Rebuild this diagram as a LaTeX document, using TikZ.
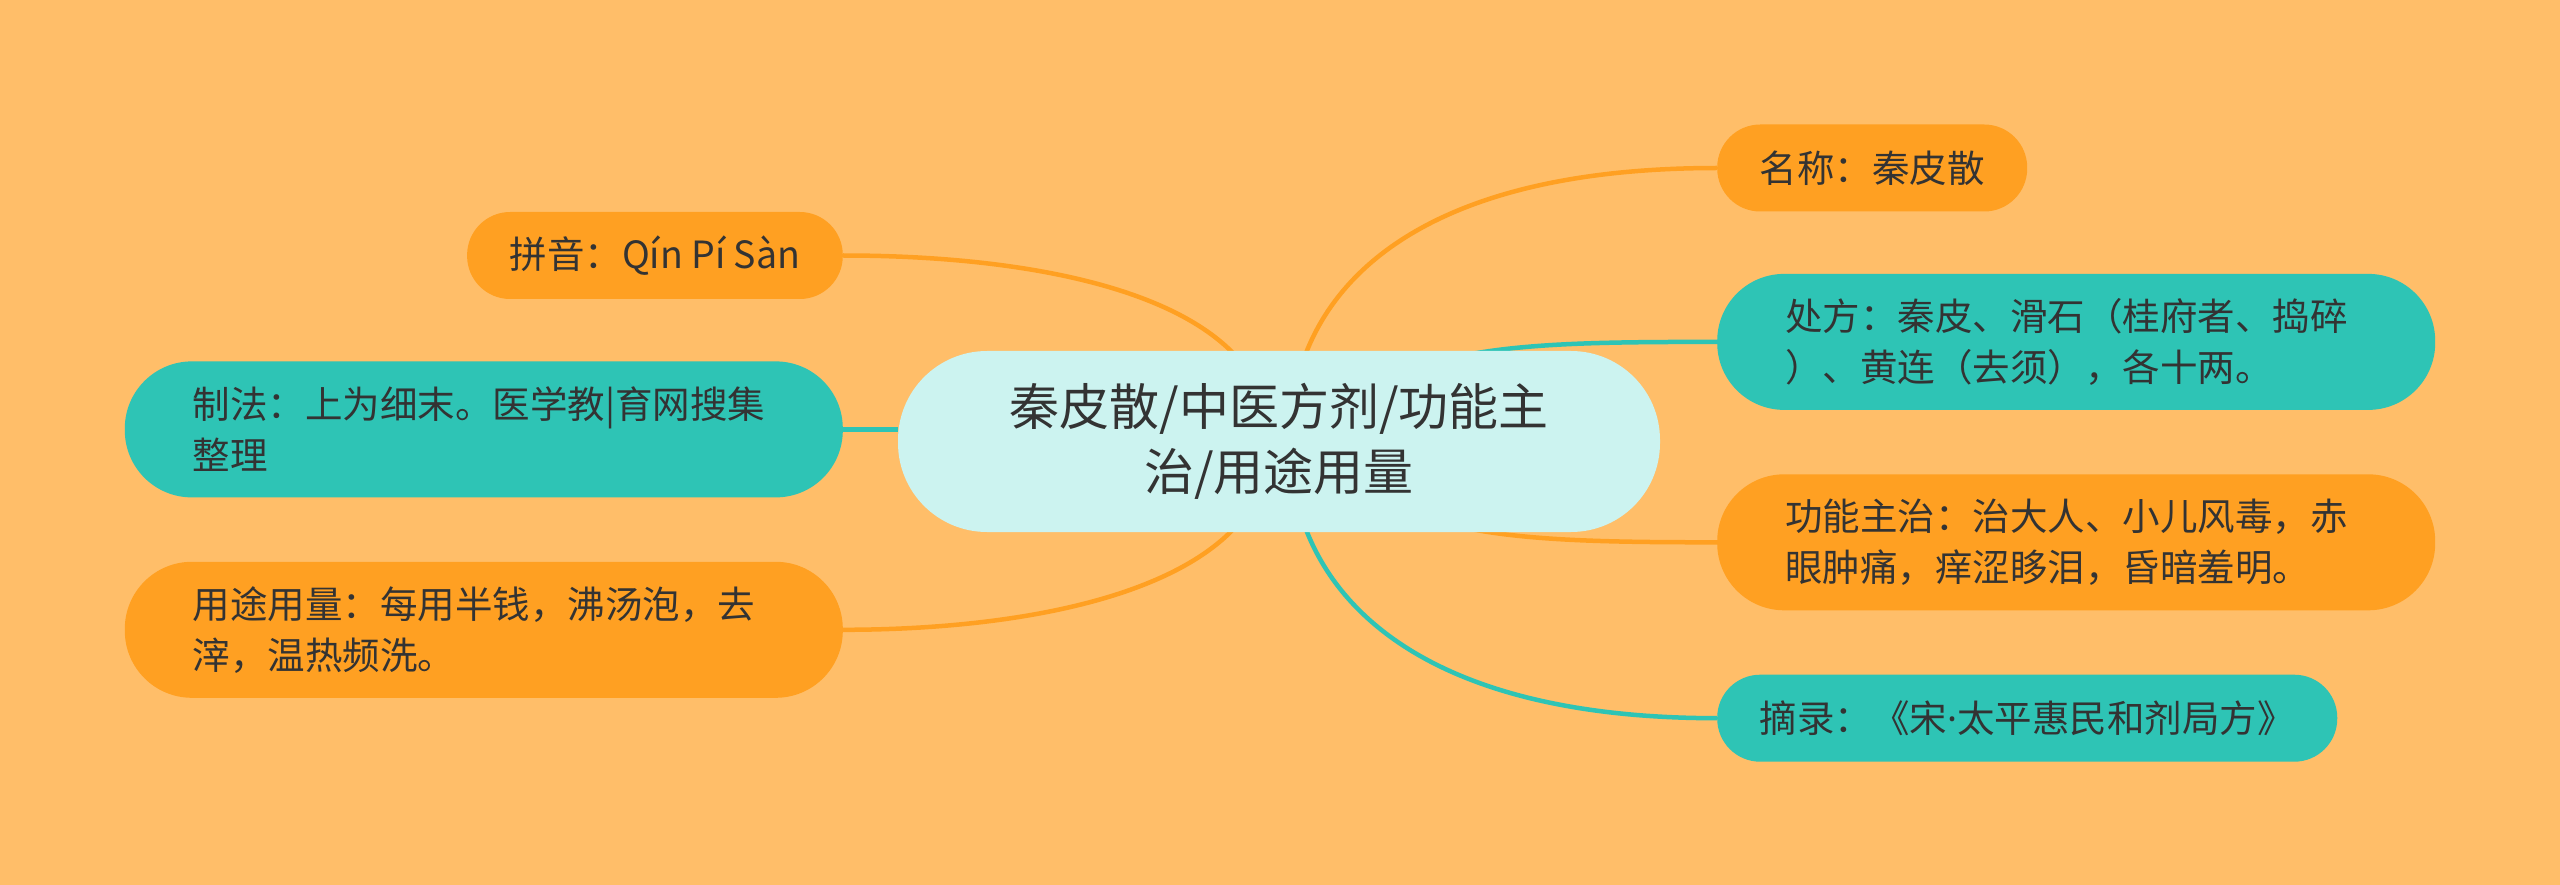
\documentclass[tikz,border=0pt]{standalone}
\usepackage{fontspec}
\newfontfamily\cjk{Noto Sans CJK SC}
\newfontfamily\latin{Noto Sans}
\usetikzlibrary{positioning,backgrounds}

\definecolor{bgorange}{HTML}{FFBE69}
\definecolor{leaforange}{HTML}{FFA022}
\definecolor{leafteal}{HTML}{2EC4B5}
\definecolor{rootcyan}{HTML}{CCF3F0}
\definecolor{inkgray}{HTML}{333333}

\tikzset{
  leaf/.style={rounded corners=43pt, minimum height=87pt, inner xsep=42.5pt, inner ysep=0pt,
    text=inkgray, font=\cjk\fontsize{37.5}{51}\selectfont},
  wideleaf/.style={leaf, rounded corners=67pt, minimum height=136pt, inner xsep=68pt,
    text width=582pt, align=left},
  orangeleaf/.style={fill=leaforange},
  tealleaf/.style={fill=leafteal},
  root/.style={fill=rootcyan, rounded corners=89pt, minimum width=762pt, minimum height=181pt,
    text=inkgray, align=center, font=\cjk\fontsize{50}{65}\selectfont},
  orangeline/.style={draw=leaforange, line width=4.5pt},
  tealline/.style={draw=leafteal, line width=4.5pt},
}

\begin{document}
\begin{tikzpicture}[x=1pt, y=-1pt]
			\useasboundingbox (0,0) rectangle (2560,885);

			\node[root] (root) at (1279,441.5) {秦皮散/中医方剂/功能主\\治/用途用量};
			\coordinate (hubL) at (1270,441);
			\coordinate (hubR) at (1290,441);

			% left side
			\node[leaf, orangeleaf, anchor=east] (py) at (843,255.5) {拼音：Qín Pí Sàn};
			\node[wideleaf, tealleaf] (zf) [below=62pt of py.south east, anchor=north east] {制法：上为细末。医学教|育网搜集\\整理};
			\node[wideleaf, orangeleaf] (yt) [below=64pt of zf.south east, anchor=north east] {用途用量：每用半钱，沸汤泡，去\\滓，温热频洗。};

			% right side
			\node[leaf, orangeleaf, anchor=west] (mc) at (1717,168) {名称：秦皮散};
			\node[wideleaf, tealleaf] (cf) [below=62pt of mc.south west, anchor=north west] {处方：秦皮、滑石（桂府者、捣碎\\）、黄连（去须），各十两。};
			\node[wideleaf, orangeleaf] (gn) [below=64pt of cf.south west, anchor=north west] {功能主治：治大人、小儿风毒，赤\\眼肿痛，痒涩眵泪，昏暗羞明。};
			\node[leaf, tealleaf] (zl) [below=64pt of gn.south west, anchor=north west] {摘录：《宋{\latin ·}太平惠民和剂局方》};

			\begin{scope}[on background layer]
				\fill[bgorange] (0,0) rectangle (2560,885);
				\draw[orangeline] (hubL) .. controls +(0,-141) and +(208,0) .. (py.east);
				\draw[tealline] (zf.east) -- (zf.east -| root.west);
				\draw[orangeline] (hubL) .. controls +(0,141) and +(208,0) .. (yt.east);
				\draw[orangeline] (hubR) .. controls +(0,-141) and +(-317,0) .. (mc.west);
				\draw[tealline] (hubR) .. controls +(110,-96) and +(-217,0) .. (cf.west);
				\draw[orangeline] (hubR) .. controls +(110,96) and +(-217,0) .. (gn.west);
				\draw[tealline] (hubR) .. controls +(0,141) and +(-317,0) .. (zl.west);
			\end{scope}
		\end{tikzpicture}
\end{document}
